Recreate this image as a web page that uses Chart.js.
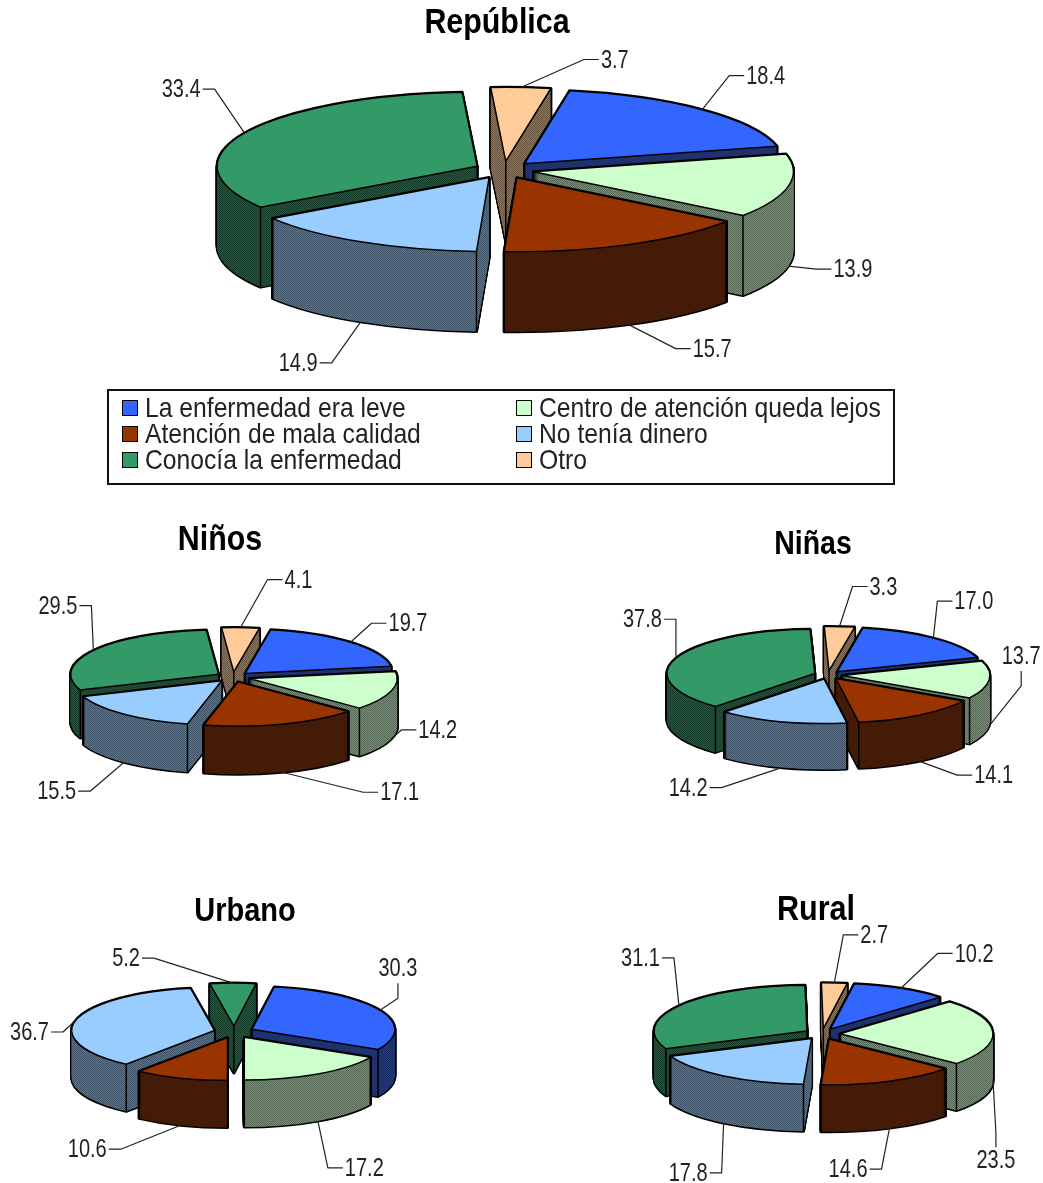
<!DOCTYPE html>
<html>
<head>
<meta charset="utf-8">
<title>Razones por las que no buscó atención</title>
<script src="https://cdn.jsdelivr.net/npm/chart.js@4/dist/chart.umd.min.js"></script>
<style>
    html, body { margin: 0; padding: 0; background: #fff; }
    #page { position: relative; width: 1043px; height: 1183px; overflow: hidden; font-family: "Liberation Sans", Arial, sans-serif; }
    #page canvas { position: absolute; left: 0; top: 0; }
    .titulo { position: absolute; font-weight: bold; color: #000; white-space: nowrap; transform: translate(-50%, -50%) scaleY(1.15); }
    #leyenda { position: absolute; left: 107px; top: 389px; width: 784px; height: 92px; border: 2px solid #111; box-sizing: content-box; }
    .item { position: absolute; font-size: 24.7px; line-height: 26px; color: #222; white-space: nowrap; }
    .item span { display: inline-block; transform: scaleY(1.12); }
    .item i { position: absolute; left: -23px; top: 5px; width: 14px; height: 14px; border: 1.5px solid #000; }
</style>
</head>
<body>
<div id="page"></div>
<script>
// categorias y colores
const categorias = ['La enfermedad era leve', 'Centro de atención queda lejos', 'Atención de mala calidad', 'No tenía dinero', 'Conocía la enfermedad', 'Otro'];
const colores = ['rgb(51, 102, 255)', 'rgb(204, 255, 204)', 'rgb(153, 51, 0)', 'rgb(153, 204, 255)', 'rgb(51, 153, 102)', 'rgb(255, 204, 153)'];

// valores
const republica = [18.4, 13.9, 15.7, 14.9, 33.4, 3.7];
const ninos = [19.7, 14.2, 17.1, 15.5, 29.5, 4.1];
const ninas = [17.0, 13.7, 14.1, 14.2, 37.8, 3.3];
const urbano = [30.3, 17.2, 10.6, 36.7, 5.2];
const rural = [10.2, 23.5, 14.6, 17.8, 31.1, 2.7];

const ANCHO = 1043, ALTO = 1183;

// geometria de cada torta; guias = [dx, dy, direccion de la cola] desde el borde de la tajada
const tortas = [
    { valores: republica, titulo: 'República', tx: 497, ty: 21, ts: 30.4, cx: 504, cy: 170, r: 260, d: 30, k: 0.285, prof: 80, rot: 10,
      guias: [[27, -34, 'r'], [28, 3, 'r'], [47, 24, 'r'], [-29, 41, 'l'], [-30, -44, 'l'], [63, -28, 'r']] },
    { valores: ninos, titulo: 'Niños', tx: 220, ty: 538, ts: 30.4, cx: 233, cy: 677, r: 148, d: 17, k: 0.3, prof: 48, rot: 10,
      guias: [[21, -19, 'r'], [10, -9, 'r'], [81, 20, 'r'], [-34, 29, 'l'], [-2, -45, 'l'], [27, -48, 'r']] },
    { valores: ninas, titulo: 'Niñas', tx: 813, ty: 543, ts: 28.5, cx: 828, cy: 675, r: 148, d: 14, k: 0.3, prof: 46, rot: 10,
      guias: [[4, -37, 'r'], [32, -40, 'u'], [38, 14, 'r'], [-60, 20, 'l'], [0, -39, 'l'], [13, -40, 'r']] },
    { valores: urbano, titulo: 'Urbano', tx: 245, ty: 910, ts: 29, cx: 234, cy: 1032, r: 143, d: 20, k: 0.3, prof: 47, rot: 9,
      guias: [[18, -12, 'u'], [10, 47, 'r'], [-60, 24, 'l'], [-13, 12, 'l'], [-79, -25, 'l']] },
    { valores: rural, titulo: 'Rural', tx: 816, ty: 908, ts: 30.6, cx: 822, cy: 1034, r: 153, d: 18, k: 0.3, prof: 47, rot: 9,
      guias: [[37, -35, 'r'], [3, 53, 'd'], [-8, 41, 'l'], [-2, 50, 'l'], [-5, -48, 'l'], [9, -48, 'r']] }
];

const pagina = document.getElementById('page');

// textura punteada de las paredes
function texturaPared(color) {
    const rgb = color.match(/\d+/g).map(Number);
    const c = document.createElement('canvas');
    c.width = c.height = 2;
    const g = c.getContext('2d');
    const tono = f => `rgb(${rgb.map(v => Math.round(v * f)).join(',')})`;
    g.fillStyle = tono(0.58);
    g.fillRect(0, 0, 2, 2);
    g.fillStyle = tono(0.4);
    g.fillRect(0, 0, 1, 1);
    g.fillRect(1, 1, 1, 1);
    return g.canvas;
}

function caminoTajada(ctx, arc, cy, dy, k) {
    ctx.save();
    ctx.translate(0, cy + dy);
    ctx.scale(1, k);
    ctx.translate(0, -cy);
    ctx.beginPath();
    ctx.moveTo(arc.x, arc.y);
    ctx.arc(arc.x, arc.y, arc.outerRadius, arc.startAngle, arc.endAngle);
    ctx.closePath();
    ctx.restore();
}

function pantalla(arc, angulo, cy, k) {
    const x = arc.x + Math.cos(angulo) * arc.outerRadius;
    const y = arc.y + Math.sin(angulo) * arc.outerRadius;
    return [x, cy + (y - cy) * k];
}

// plugin: pseudo 3D sobre los arcos de Chart.js
const torta3d = {
    id: 'torta3d',
    beforeDatasetsDraw(chart, args, opts) {
        const ctx = chart.ctx;
        const area = chart.chartArea;
        const cx = (area.left + area.right) / 2;
        const cy = (area.top + area.bottom) / 2;
        const k = opts.k;
        const arcos = chart.getDatasetMeta(0).data;

        // separar las tajadas
        arcos.forEach(arc => {
            const medio = (arc.startAngle + arc.endAngle) / 2;
            arc.x = cx + Math.cos(medio) * opts.d;
            arc.y = cy + Math.sin(medio) * opts.d;
        });

        // paredes, de atras hacia adelante
        const orden = arcos.map((arc, i) => i).sort((a, b) => {
            const ma = (arcos[a].startAngle + arcos[a].endAngle) / 2;
            const mb = (arcos[b].startAngle + arcos[b].endAngle) / 2;
            return Math.sin(ma) - Math.sin(mb);
        });
        orden.forEach(i => {
            const arc = arcos[i];
            const medio = (arc.startAngle + arc.endAngle) / 2;
            ctx.strokeStyle = '#000';
            ctx.lineWidth = 3;
            ctx.lineJoin = 'round';
            for (let d = opts.prof; d >= 0; d -= 1) {
                caminoTajada(ctx, arc, cy, d, k);
                ctx.stroke();
            }
            ctx.fillStyle = ctx.createPattern(texturaPared(colores[i]), 'repeat');
            for (let d = opts.prof; d >= 0; d -= 1) {
                caminoTajada(ctx, arc, cy, d, k);
                ctx.fill();
            }
            // aristas verticales, solo las que dan al frente
            ctx.lineWidth = 1.5;
            const esquinas = [];
            if (Math.sin(medio) < 0) esquinas.push([arc.x, cy + (arc.y - cy) * k]);
            if (Math.sin(arc.startAngle) > 0) esquinas.push(pantalla(arc, arc.startAngle, cy, k));
            if (Math.sin(arc.endAngle) > 0) esquinas.push(pantalla(arc, arc.endAngle, cy, k));
            esquinas.forEach(p => {
                ctx.beginPath();
                ctx.moveTo(p[0], p[1]);
                ctx.lineTo(p[0], p[1] + opts.prof);
                ctx.stroke();
            });
        });

        // la cara superior la dibuja Chart.js, aplastada
        ctx.save();
        ctx.translate(0, cy);
        ctx.scale(1, k);
        ctx.translate(0, -cy);
    },
    afterDatasetsDraw(chart, args, opts) {
        const ctx = chart.ctx;
        ctx.restore();
        const area = chart.chartArea;
        const cy = (area.top + area.bottom) / 2;
        const k = opts.k;
        const arcos = chart.getDatasetMeta(0).data;
        ctx.strokeStyle = '#000';
        ctx.lineWidth = 1.5;
        ctx.lineJoin = 'round';
        arcos.forEach(arc => {
            caminoTajada(ctx, arc, cy, 0, k);
            ctx.stroke();
        });

        // guias y etiquetas
        const valores = chart.data.datasets[0].data;
        ctx.font = '20px "Liberation Sans", Arial, sans-serif';
        arcos.forEach((arc, i) => {
            const medio = (arc.startAngle + arc.endAngle) / 2;
            const p = pantalla(arc, medio, cy, k);
            if (Math.sin(medio) > -0.1) p[1] += opts.prof;
            const g = opts.guias[i];
            const codo = [p[0] + g[0], p[1] + g[1]];
            let fin = codo.slice();
            if (g[2] === 'r') fin[0] += 15;
            if (g[2] === 'l') fin[0] -= 12;
            if (g[2] === 'u') fin[1] -= 15;
            if (g[2] === 'd') fin[1] += 15;
            ctx.strokeStyle = '#222';
            ctx.lineWidth = 1.2;
            ctx.beginPath();
            ctx.moveTo(p[0], p[1]);
            ctx.lineTo(codo[0], codo[1]);
            ctx.lineTo(fin[0], fin[1]);
            ctx.stroke();

            const texto = valores[i].toFixed(1);
            let tx = fin[0], ty = fin[1] + 1;
            if (g[2] === 'r') { ctx.textAlign = 'left'; tx += 2; }
            if (g[2] === 'l') { ctx.textAlign = 'right'; tx -= 2; }
            if (g[2] === 'u') { ctx.textAlign = 'center'; ty -= 15; }
            if (g[2] === 'd') { ctx.textAlign = 'center'; ty += 13; }
            ctx.save();
            ctx.fillStyle = '#222';
            ctx.textBaseline = 'middle';
            ctx.translate(tx, ty);
            ctx.scale(1, 1.3); // los numeros del original son altos y angostos
            ctx.fillText(texto, 0, 0);
            ctx.restore();
        });
    }
};

tortas.forEach(t => {
    const canvas = document.createElement('canvas');
    canvas.width = ANCHO;
    canvas.height = ALTO;
    pagina.appendChild(canvas);

    new Chart(canvas.getContext('2d'), {
        type: 'pie',
        plugins: [torta3d],
        data: {
            labels: categorias.slice(0, t.valores.length),
            datasets: [{
                data: t.valores,
                backgroundColor: colores,
                borderWidth: 0,
                radius: t.r
            }]
        },
        options: {
            responsive: false,
            animation: false,
            events: [],
            rotation: t.rot,
            layout: {
                padding: {
                    left: Math.max(0, 2 * t.cx - ANCHO),
                    right: Math.max(0, ANCHO - 2 * t.cx),
                    top: Math.max(0, 2 * t.cy - ALTO),
                    bottom: Math.max(0, ALTO - 2 * t.cy)
                }
            },
            plugins: {
                legend: { display: false },
                title: { display: false },
                tooltip: { enabled: false },
                torta3d: { d: t.d, k: t.k, prof: t.prof, guias: t.guias }
            }
        }
    });

    const titulo = document.createElement('div');
    titulo.className = 'titulo';
    titulo.textContent = t.titulo;
    titulo.style.left = t.tx + 'px';
    titulo.style.top = t.ty + 'px';
    titulo.style.fontSize = t.ts + 'px';
    pagina.appendChild(titulo);
});

// leyenda
const leyenda = document.createElement('div');
leyenda.id = 'leyenda';
categorias.forEach((nombre, i) => {
    const item = document.createElement('div');
    item.className = 'item';
    item.style.left = (i % 2 === 0 ? 36 : 430) + 'px';
    item.style.top = (4 + Math.floor(i / 2) * 26) + 'px';
    const cuadro = document.createElement('i');
    cuadro.style.background = colores[i];
    item.appendChild(cuadro);
    const texto = document.createElement('span');
    texto.textContent = nombre;
    item.appendChild(texto);
    leyenda.appendChild(item);
});
pagina.appendChild(leyenda);
</script>
</body>
</html>
